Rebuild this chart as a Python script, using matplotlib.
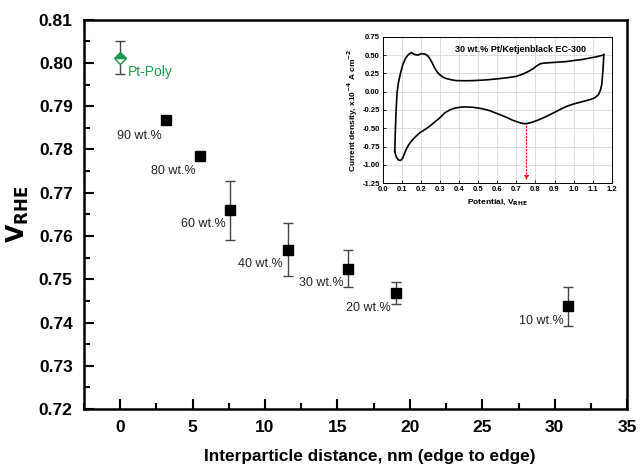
import matplotlib
matplotlib.use("Agg")
import matplotlib.pyplot as plt
from matplotlib.ticker import MultipleLocator
import numpy as np

plt.rcParams['font.family'] = ['Liberation Sans', 'DejaVu Sans']

# Main data
labels = ["90 wt.%", "80 wt.%", "60 wt.%", "40 wt.%", "30 wt.%", "20 wt.%", "10 wt.%"]
distance = [3.18, 5.52, 7.62, 11.62, 15.72, 19.01, 30.92]
v_rhe = [0.7867, 0.7784, 0.7659, 0.7568, 0.7524, 0.7468, 0.7438]
v_err = [0.0, 0.0, 0.0069, 0.0061, 0.0043, 0.0025, 0.0045]

ptpoly_x = [0.0]
ptpoly_v = [0.8012]
ptpoly_err = [0.0038]

# label positions (right edge, centre) in data units
label_x = [2.88, 5.23, 7.27, 11.26, 15.4, 18.65, 30.6]
label_y = [0.7832, 0.7750, 0.7627, 0.7535, 0.7491, 0.7434, 0.7404]

# Inset CV data (potential V, current density x1e-4 A/cm2)
cv_anodic_x = [0.063, 0.066, 0.070, 0.075, 0.082, 0.092, 0.105, 0.120, 0.135, 0.150, 0.166, 0.184,
               0.200, 0.219, 0.232, 0.245, 0.260, 0.272, 0.285, 0.298, 0.315, 0.333, 0.360, 0.385,
               0.430, 0.473, 0.520, 0.560, 0.600, 0.648, 0.700, 0.736, 0.765, 0.788, 0.805, 0.823,
               0.840, 0.858, 0.911, 0.960, 0.999, 1.050, 1.086, 1.120, 1.151, 1.158]
cv_anodic_y = [-0.816, -0.55, -0.25, -0.02, 0.12, 0.24, 0.37, 0.46, 0.51, 0.535, 0.51, 0.50,
               0.52, 0.517, 0.50, 0.46, 0.39, 0.325, 0.27, 0.234, 0.20, 0.18, 0.163, 0.152,
               0.150, 0.152, 0.158, 0.166, 0.176, 0.19, 0.21, 0.243, 0.28, 0.316, 0.35, 0.38,
               0.39, 0.394, 0.403, 0.412, 0.426, 0.443, 0.462, 0.478, 0.499, 0.508]
cv_cathodic_x = [1.158, 1.156, 1.153, 1.147, 1.140, 1.130, 1.110, 1.086, 1.040, 0.999, 0.964, 0.935,
                 0.911, 0.885, 0.858, 0.830, 0.806, 0.780, 0.753, 0.735, 0.718, 0.680, 0.648, 0.600,
                 0.560, 0.520, 0.473, 0.430, 0.403, 0.375, 0.350, 0.325, 0.298, 0.270, 0.245, 0.220,
                 0.193, 0.170, 0.149, 0.135, 0.123, 0.113, 0.105, 0.098, 0.091, 0.083, 0.074, 0.068, 0.063]
cv_cathodic_y = [0.508, 0.40, 0.28, 0.097, 0.02, -0.04, -0.085, -0.108, -0.14, -0.168, -0.20, -0.235,
                 -0.268, -0.302, -0.337, -0.37, -0.396, -0.42, -0.437, -0.435, -0.424, -0.39, -0.35, -0.30,
                 -0.259, -0.232, -0.213, -0.208, -0.213, -0.226, -0.250, -0.290, -0.36, -0.42, -0.474, -0.52,
                 -0.565, -0.62, -0.68, -0.73, -0.79, -0.85, -0.907, -0.93, -0.94, -0.935, -0.907, -0.87, -0.816]
peak_x = 0.753
peak_y = -0.437

fig = plt.figure(figsize=(6.4, 4.67), dpi=100)
ax = fig.add_axes([0.131, 0.124, 0.849, 0.834])

ax.errorbar(distance, v_rhe, yerr=[e if e > 0 else np.nan for e in v_err], fmt='s', color='black',
            ecolor='#444444', elinewidth=1.0, capsize=3.5, capthick=1.0, markersize=6.5, zorder=3)
ax.errorbar(ptpoly_x, ptpoly_v, yerr=ptpoly_err, fmt='none', ecolor='#444444', elinewidth=1.0,
            capsize=3.5, capthick=1.0, zorder=2)
ax.plot(ptpoly_x, ptpoly_v, marker='D', linestyle='none', markersize=6, color='#1a9a50',
        fillstyle='top', markerfacecoloralt='white', markeredgecolor='#1a9a50', markeredgewidth=1.0, zorder=3)
ax.text(0.55, 0.7978, "Pt-Poly", color='#1a9a50', fontsize=10, ha='left', va='center')

for lx, ly, lab in zip(label_x, label_y, labels):
    ax.text(lx, ly, lab, fontsize=9, ha='right', va='center', color='#222222')

ax.set_xlim(-2.5, 35)
ax.set_ylim(0.72, 0.81)
ax.xaxis.set_major_locator(MultipleLocator(5))
ax.xaxis.set_minor_locator(MultipleLocator(2.5))
ax.yaxis.set_major_locator(MultipleLocator(0.01))
ax.yaxis.set_minor_locator(MultipleLocator(0.005))
ax.yaxis.set_major_formatter(matplotlib.ticker.FormatStrFormatter('%.2f'))
ax.tick_params(which='major', direction='in', length=7, width=1.5, labelsize=12.5, pad=8)
ax.tick_params(which='minor', direction='in', length=4, width=1.5)
for lab in ax.get_xticklabels() + ax.get_yticklabels():
    lab.set_fontweight('bold')
for s in ax.spines.values():
    s.set_linewidth(1.8)
ax.set_xlabel("Interparticle distance, nm (edge to edge)", fontsize=12.4, fontweight='bold', labelpad=10)
ax.xaxis.label.set_x(0.527)
ax.set_ylabel(r"$\mathbf{V_{RHE}}$", fontsize=17, labelpad=6)

# Inset
ins = fig.add_axes([0.598, 0.608, 0.358, 0.313])
ins.plot(cv_anodic_x, cv_anodic_y, color='black', linewidth=1.2)
ins.plot(cv_cathodic_x, cv_cathodic_y, color='black', linewidth=1.2)
ins.annotate('', xy=(peak_x, -1.25), xytext=(peak_x, peak_y),
             arrowprops=dict(arrowstyle='-|>', color='red', linestyle=':', linewidth=0.9, mutation_scale=6))
ins.set_xlim(0.0, 1.2)
ins.set_ylim(-1.25, 0.75)
ins.xaxis.set_major_locator(MultipleLocator(0.1))
ins.yaxis.set_major_locator(MultipleLocator(0.25))
ins.xaxis.set_major_formatter(matplotlib.ticker.FormatStrFormatter('%.1f'))
ins.yaxis.set_major_formatter(matplotlib.ticker.FormatStrFormatter('%.2f'))
ins.grid(True, color='#d8d8d8', linewidth=0.6)
ins.set_axisbelow(True)
ins.tick_params(direction='in', length=2.5, width=0.6, labelsize=5.5, pad=2)
for lab in ins.get_xticklabels() + ins.get_yticklabels():
    lab.set_fontweight('bold')
for s in ins.spines.values():
    s.set_linewidth(0.7)
ins.set_xlabel(r"Potential, V$_{\mathbf{RHE}}$", fontsize=6, fontweight='bold', labelpad=3)
ins.set_ylabel(r"Current density, x10$^{\mathbf{-4}}$ A cm$^{\mathbf{-2}}$", fontsize=6, fontweight='bold', labelpad=2)
ins.text(0.72, 0.58, "30 wt.% Pt/Ketjenblack EC-300", fontsize=6.5, fontweight='bold', ha='center', va='center')

fig.savefig("out.png", dpi=100)
